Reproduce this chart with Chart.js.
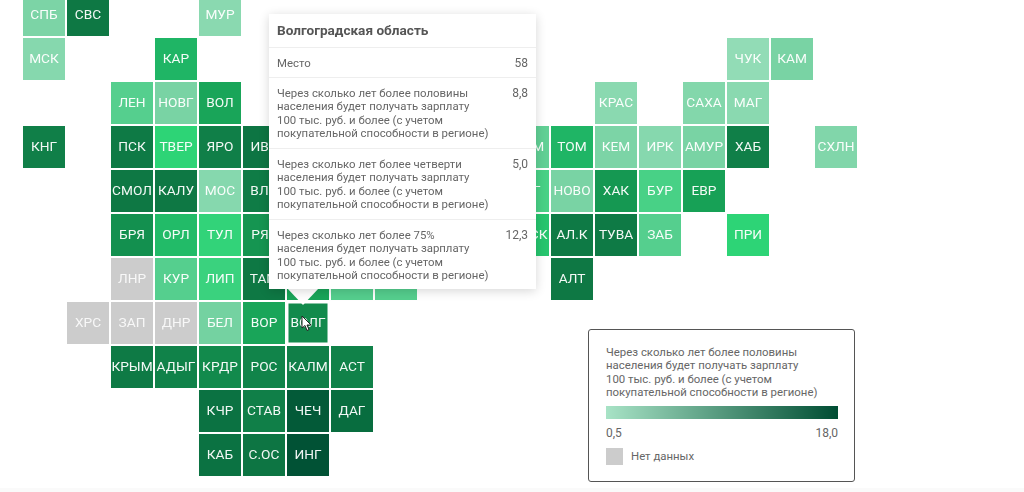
<!DOCTYPE html>
<html lang="ru">

<head>
    <meta charset="UTF-8">
    <title>Зарплата 100 тыс. руб. по регионам</title>
    <style>
        html, body {
            margin: 0;
            padding: 0;
            background: #fff;
            overflow: hidden;
            font-family: Roboto, sans-serif;
        }

        #wrap {
            position: relative;
            width: 1024px;
            height: 492px;
        }

        #map {
            position: absolute;
            left: 0;
            top: 0;
        }

        #footerBand {
            position: absolute;
            left: 0;
            right: 0;
            top: 488px;
            height: 4px;
            background: #fafafa;
        }

        /* tooltip box over the hovered tile */
        #tip {
            position: absolute;
            left: 269px;
            top: 14px;
            width: 267px;
            height: 275px;
            background: #fff;
            box-shadow: 0 2px 10px rgba(0, 0, 0, 0.16);
            color: #666;
            font-size: 11.4px;
            line-height: 13.3px;
        }

        #tipArrow {
            position: absolute;
            left: 287px;
            top: 288px;
            width: 0;
            height: 0;
            border-left: 16px solid transparent;
            border-right: 16px solid transparent;
            border-top: 17px solid #fff;
        }

        #tipTitle {
            box-sizing: border-box;
            height: 34px;
            line-height: 33px;
            padding-left: 8px;
            font-size: 13.6px;
            font-weight: 700;
            color: #555;
            border-bottom: 1px solid #eee;
        }

        .tipRow {
            box-sizing: border-box;
            display: flex;
            justify-content: space-between;
            height: 71px;
            padding: 9px 8px 0 8px;
            border-bottom: 1px solid #eee;
            white-space: pre-line;
        }

        #tipTitle + .tipRow {
            height: 30px;
        }

        .tipRow:last-child {
            border-bottom: none;
        }

        .tipValue {
            font-size: 12px;
        }

        #legendBox {
            position: absolute;
            left: 588px;
            top: 329px;
            width: 265px;
            height: 151px;
            border: 1px solid #555;
            border-radius: 3px;
            background: #fff;
            color: #666;
            font-size: 11.4px;
            line-height: 13.3px;
        }

        #legendTitle {
            position: absolute;
            left: 17px;
            top: 16px;
            white-space: pre-line;
        }

        #legendBar {
            position: absolute;
            left: 17px;
            top: 76px;
            width: 232px;
            height: 13px;
            background: linear-gradient(to right, #a8e3c6, #004d33);
        }

        #legendMin, #legendMax {
            position: absolute;
            top: 97px;
            font-size: 12px;
        }

        #legendMin {
            left: 17px;
        }

        #legendMax {
            right: 16px;
        }

        #noDataSwatch {
            position: absolute;
            left: 17px;
            top: 118px;
            width: 17px;
            height: 17px;
            background: #ccc;
        }

        #noDataText {
            position: absolute;
            left: 42px;
            top: 120px;
        }

        #cursor {
            position: absolute;
            left: 301px;
            top: 315px;
        }
    </style>
    <script src="https://cdn.jsdelivr.net/npm/chart.js"></script>
</head>

<body>
    <div id="wrap">
        <canvas id="map" width="1024" height="492"></canvas>
        <div id="footerBand"></div>
        <div id="tipArrow"></div>
        <div id="tip"></div>
        <div id="legendBox">
            <div id="legendTitle"></div>
            <div id="legendBar"></div>
            <div id="legendMin"></div>
            <div id="legendMax"></div>
            <div id="noDataSwatch"></div>
            <div id="noDataText"></div>
        </div>
        <svg id="cursor" width="12" height="18" viewBox="0 0 12 18">
            <path d="M1 1 L1 13 L4 10.5 L6 15.5 L8 14.5 L6 10 L10 10 Z" fill="#fff" stroke="#222" stroke-width="1"/>
        </svg>
    </div>

    <script>
        // tile labels, grid column, grid row and value (null = no data)
        const regions = ['СПБ', 'СВС', 'МУР',
            'МСК', 'КАР', 'ЧУК', 'КАМ',
            'ЛЕН', 'НОВГ', 'ВОЛ', 'КРАС', 'САХА', 'МАГ',
            'КНГ', 'ПСК', 'ТВЕР', 'ЯРО', 'ИВА', 'ТЮМ', 'ТОМ', 'КЕМ', 'ИРК', 'АМУР', 'ХАБ', 'СХЛН',
            'СМОЛ', 'КАЛУ', 'МОС', 'ВЛА', 'КРГ', 'НОВО', 'ХАК', 'БУР', 'ЕВР',
            'БРЯ', 'ОРЛ', 'ТУЛ', 'РЯЗ', 'ОМСК', 'АЛ.К', 'ТУВА', 'ЗАБ', 'ПРИ',
            'ЛНР', 'КУР', 'ЛИП', 'ТАМ', '', '', '', 'АЛТ',
            'ХРС', 'ЗАП', 'ДНР', 'БЕЛ', 'ВОР', 'ВОЛГ',
            'КРЫМ', 'АДЫГ', 'КРДР', 'РОС', 'КАЛМ', 'АСТ',
            'КЧР', 'СТАВ', 'ЧЕЧ', 'ДАГ',
            'КАБ', 'С.ОС', 'ИНГ'];
        const gridCol = [0, 1, 4,
            0, 3, 16, 17,
            2, 3, 4, 13, 15, 16,
            0, 2, 3, 4, 5, 11, 12, 13, 14, 15, 16, 18,
            2, 3, 4, 5, 11, 12, 13, 14, 15,
            2, 3, 4, 5, 11, 12, 13, 14, 16,
            2, 3, 4, 5, 6, 7, 8, 12,
            1, 2, 3, 4, 5, 6,
            2, 3, 4, 5, 6, 7,
            4, 5, 6, 7,
            4, 5, 6];
        const gridRow = [0, 0, 0,
            1, 1, 1, 1,
            2, 2, 2, 2, 2, 2,
            3, 3, 3, 3, 3, 3, 3, 3, 3, 3, 3, 3,
            4, 4, 4, 4, 4, 4, 4, 4, 4,
            5, 5, 5, 5, 5, 5, 5, 5, 5,
            6, 6, 6, 6, 6, 6, 6, 6,
            7, 7, 7, 7, 7, 7,
            8, 8, 8, 8, 8, 8,
            9, 9, 9, 9,
            10, 10, 10];
        const yearsToHalf = [2.8, 10.2, 2.0,
            2.2, 7.0, 1.5, 3.0,
            4.5, 3.0, 7.8, 2.0, 2.4, 2.0,
            9.5, 10.0, 6.0, 9.5, 10.5, 4.0, 7.0, 2.8, 2.2, 3.0, 9.5, 2.5,
            10.2, 10.2, 2.2, 9.8, 5.0, 3.0, 8.3, 5.0, 8.0,
            8.6, 6.8, 5.8, 8.4, 6.5, 10.0, 10.0, 4.5, 6.0,
            null, 4.5, 5.5, 10.2, 7.8, 4.5, 4.5, 10.2,
            null, null, null, 3.2, 7.8, 8.8,
            10.0, 9.2, 8.8, 9.0, 9.5, 9.2,
            11.0, 9.5, 15.5, 12.0,
            11.0, 10.5, 17.0];

        // colour scale as seen on the tiles
        const stopValues = [0.5, 3, 4.5, 6, 7, 8, 9, 10.5, 12, 18];
        const stopColors = ['#a3e2c2', '#79d3a4', '#55cf8e', '#2dd476', '#1fb565', '#17a156', '#11844a', '#0d7543', '#086d3f', '#004d33'];
        const noDataColor = '#cccccc';

        const hoveredRegion = 'ВОЛГ';

        const tipTitle = 'Волгоградская область';
        const tipLabels = ['Место',
            'Через сколько лет более половины\nнаселения будет получать зарплату\n100 тыс. руб. и более (с учетом\nпокупательной способности в регионе)',
            'Через сколько лет более четверти\nнаселения будет получать зарплату\n100 тыс. руб. и более (с учетом\nпокупательной способности в регионе)',
            'Через сколько лет более 75%\nнаселения будет получать зарплату\n100 тыс. руб. и более (с учетом\nпокупательной способности в регионе)'];
        const tipValues = ['58', '8,8', '5,0', '12,3'];

        const legendTitle = tipLabels[1];
        const legendMin = '0,5';
        const legendMax = '18,0';
        const noDataLabel = 'Нет данных';

        function hexToRgb(hex) {
            return [1, 3, 5].map(i => parseInt(hex.substr(i, 2), 16));
        }

        function colorFor(v) {
            if (v === null) return noDataColor;
            let i = 0;
            while (i < stopValues.length - 2 && v > stopValues[i + 1]) i++;
            const t = Math.min(1, Math.max(0, (v - stopValues[i]) / (stopValues[i + 1] - stopValues[i])));
            const a = hexToRgb(stopColors[i]);
            const b = hexToRgb(stopColors[i + 1]);
            return 'rgb(' + a.map((c, k) => Math.round(c + (b[k] - c) * t)).join(',') + ')';
        }

        // writes the region codes on top of the tiles
        const tileLabels = {
            id: 'tileLabels',
            afterDatasetsDraw(chart) {
                const ctx = chart.ctx;
                const x = chart.scales.x;
                const y = chart.scales.y;
                ctx.save();
                ctx.font = '13.7px Roboto, sans-serif';
                ctx.textAlign = 'center';
                ctx.textBaseline = 'middle';
                regions.forEach((name, i) => {
                    ctx.fillStyle = yearsToHalf[i] === null ? 'rgba(255,255,255,0.85)' : 'rgba(255,255,255,0.95)';
                    ctx.fillText(name, x.getPixelForValue(gridCol[i]), y.getPixelForValue(gridRow[i]) + 0.5);
                });
                ctx.restore();
            }
        };

        new Chart(document.getElementById('map').getContext('2d'), {
            type: 'scatter',
            data: {
                datasets: [{
                    data: regions.map((name, i) => ({ x: gridCol[i], y: gridRow[i] })),
                    pointStyle: 'rect',
                    pointBorderWidth: 0,
                    // rect side is radius * sqrt(2)
                    pointRadius: ctx => regions[ctx.dataIndex] === hoveredRegion ? 27.6 : 29.7,
                    backgroundColor: ctx => colorFor(yearsToHalf[ctx.dataIndex]),
                    clip: false
                }]
            },
            options: {
                responsive: false,
                animation: false,
                events: [],
                layout: { padding: 0, autoPadding: false },
                plugins: {
                    legend: { display: false },
                    tooltip: { enabled: false }
                },
                scales: {
                    x: { type: 'linear', display: false, min: -1, max: 980 / 44 },
                    y: { type: 'linear', display: false, reverse: true, min: -15 / 44, max: 477 / 44 }
                }
            },
            plugins: [tileLabels]
        });

        // tooltip and legend text
        let tipHtml = '<div id="tipTitle">' + tipTitle + '</div>';
        tipLabels.forEach((label, i) => {
            tipHtml += '<div class="tipRow"><span>' + label + '</span><span class="tipValue">' + tipValues[i] + '</span></div>';
        });
        document.getElementById('tip').innerHTML = tipHtml;
        document.getElementById('legendTitle').textContent = legendTitle;
        document.getElementById('legendMin').textContent = legendMin;
        document.getElementById('legendMax').textContent = legendMax;
        document.getElementById('noDataText').textContent = noDataLabel;
    </script>
</body>

</html>
